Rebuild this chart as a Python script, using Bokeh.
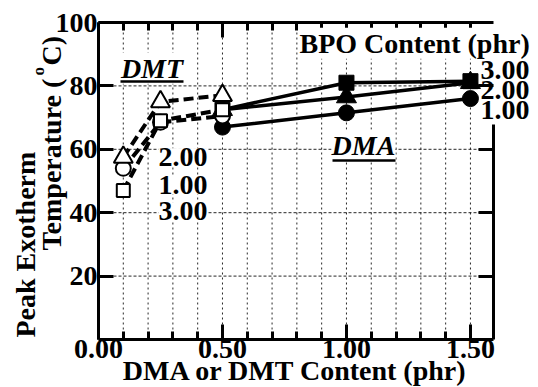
import math
from bokeh.plotting import figure
from bokeh.models import LinearAxis, FixedTicker, Label, Range1d
from bokeh.embed import file_html
from bokeh.resources import INLINE

# ---- data ----
dmt_x = [0.10, 0.25, 0.50]
dmt_bpo1 = [54.0, 68.5, 70.5]   # open circle
dmt_bpo2 = [57.5, 75.0, 77.0]   # open triangle
dmt_bpo3 = [47.0, 69.0, 72.5]   # open square

dma_x = [0.50, 1.00, 1.50]
dma_bpo1 = [67.0, 71.5, 76.0]   # filled circle
dma_bpo2 = [72.5, 76.5, 81.0]   # filled triangle
dma_bpo3 = [72.5, 81.0, 81.5]   # filled square

x_major = [0.0, 0.5, 1.0, 1.5]
x_major_labels = ["0.00", "0.50", "1.00", "1.50"]
x_minor = [0.1, 0.2, 0.3, 0.4, 0.5, 0.6, 0.7, 0.8, 0.9, 1.0, 1.1, 1.2, 1.3, 1.4, 1.5]
y_major = [20, 40, 60, 80, 100]
y_grid = [20, 40, 60, 80]
X_MAX = 1.593
Y_MAX = 100

FONT = "Liberation Serif"
FS = 28

# layout (picture pixels)
W, H = 538, 387
FL, FT, FR, FB = 98, 22, 493, 339
XS = (FR - FL) / X_MAX          # px per x unit
YS = (FB - FT) / Y_MAX          # px per y unit

def dx(px):
    return (px - FL) / XS

def dy(py):
    return (FB - py) / YS

p = figure(width=W, height=H, x_range=Range1d(dx(0), dx(W)), y_range=Range1d(dy(H), dy(0)),
           output_backend="svg", toolbar_location=None,
           min_border_left=0, min_border_right=0, min_border_top=0, min_border_bottom=0,
           x_axis_type=None, y_axis_type=None)
p.outline_line_color = None
p.background_fill_color = "white"
p.border_fill_color = "white"

def style_axis(ax, labels=True):
    ax.axis_line_width = 3
    ax.axis_line_color = "black"
    ax.major_tick_line_width = 3
    ax.minor_tick_line_width = 3
    ax.major_tick_in = 15
    ax.major_tick_out = 0
    ax.minor_tick_in = 8
    ax.minor_tick_out = 0
    ax.major_label_text_font = FONT
    ax.major_label_text_font_style = "bold"
    if labels:
        ax.major_label_text_font_size = f"{FS}px"
        ax.major_label_text_color = "black"
    else:
        ax.major_label_text_font_size = "1px"
        ax.major_label_text_color = None
    ax.major_label_standoff = 0

xb = LinearAxis(ticker=FixedTicker(ticks=x_major, minor_ticks=x_minor), fixed_location=0, bounds=(0, X_MAX))
xb.major_label_overrides = {t: l for t, l in zip(x_major, x_major_labels)}
style_axis(xb)
p.add_layout(xb, "below")

xt = LinearAxis(ticker=FixedTicker(ticks=x_major, minor_ticks=x_minor), fixed_location=Y_MAX, bounds=(0, X_MAX))
style_axis(xt, labels=False)
p.add_layout(xt, "above")

yl = LinearAxis(ticker=FixedTicker(ticks=y_major, minor_ticks=[]), fixed_location=0, bounds=(0, Y_MAX))
style_axis(yl)
yl.major_label_standoff = 1
p.add_layout(yl, "left")

# right border: hidden behind the BPO value labels near the top
yr = LinearAxis(ticker=FixedTicker(ticks=y_grid, minor_ticks=[]), fixed_location=X_MAX, bounds=(0, dy(124)))
style_axis(yr, labels=False)
p.add_layout(yr, "right")

# grid lines (inside the axes box only)
p.segment(x0=x_minor, y0=[0] * len(x_minor), x1=x_minor, y1=[Y_MAX] * len(x_minor),
          line_color="black", line_width=1, line_dash="2 3", line_alpha=0.85, level="underlay")
p.segment(x0=[0] * len(y_grid), y0=y_grid, x1=[X_MAX] * len(y_grid), y1=y_grid,
          line_color="black", line_width=1, line_dash="3 2", line_alpha=0.85, level="underlay")

# ---- DMA (solid, filled) ----
for ys, mk, sz in [(dma_bpo1, "circle", 16), (dma_bpo2, "triangle", 20), (dma_bpo3, "square", 15)]:
    p.line(dma_x, ys, line_width=3.5, color="black")
    p.scatter(dma_x, ys, marker=mk, size=sz, fill_color="black", line_color="black", line_width=1)

# ---- DMT (dashed, open) ----
for ys in [dmt_bpo1, dmt_bpo2, dmt_bpo3]:
    p.line(dmt_x, ys, line_width=4, color="black", line_dash="10 5")
for ys, mk, sz in [(dmt_bpo1, "circle", 15), (dmt_bpo2, "triangle", 19), (dmt_bpo3, "square", 13)]:
    p.scatter(dmt_x, ys, marker=mk, size=sz, fill_color="white", line_color="black", line_width=2)

# ---- text annotations ----
SHIFT = 10.0 / 27.0   # observed baseline offset of a label, per px of font size

def lab(text, px, py, align="left", style="bold", size=FS, bg="white", rotated=False):
    s = SHIFT * size
    if rotated:
        x, y, ang = dx(px - s), dy(py), math.pi / 2
    else:
        x, y, ang = dx(px), dy(py - s), 0.0
    l = Label(x=x, y=y, text=text, text_font=FONT, text_font_style=style,
              text_font_size=f"{size}px", text_align=align, text_baseline="alphabetic",
              text_color="black", background_fill_color=bg, angle=ang)
    p.add_layout(l)
    return l

lab("DMT", 151.5, 78, align="center", style="bold italic")
lab("DMA", 363, 155, align="center", style="bold italic")
lab("BPO Content (phr)", 299, 53)
lab("2.00", 158, 167)
lab("1.00", 158, 195)
lab("3.00", 158, 221)
lab("3.00", 480, 80, bg=None)
lab("2.00", 480, 100, bg=None)
lab("1.00", 480, 120, bg=None)

# underlines
p.segment(x0=[dx(120), dx(332)], y0=[dy(81), dy(160)], x1=[dx(183), dx(395)], y1=[dy(81), dy(160)],
          line_width=2.5, color="black", level="overlay")

# axis titles
lab("DMA or DMT Content (phr)", 295, 380, align="center", bg=None)
lab("Peak Exotherm", 35, 337, rotated=True, bg=None)
lab("Temperature (", 61, 250, rotated=True, bg=None)
lab("o", 44, 75, rotated=True, bg=None, size=17)
lab("C)", 61, 65, rotated=True, bg=None)

open("out.html", "w").write(file_html(p, INLINE))
